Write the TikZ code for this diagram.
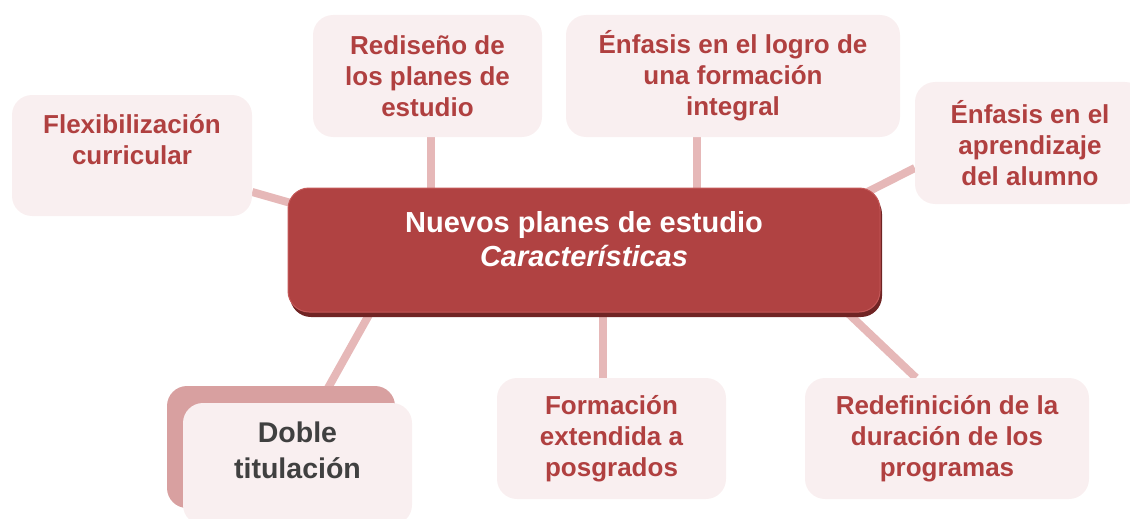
\documentclass[tikz,border=0pt]{standalone}
\usepackage{fontspec}
\setmainfont{Liberation Sans}
\usetikzlibrary{positioning,shadows}

\definecolor{cardbg}{RGB}{249,239,240}
\definecolor{cardred}{RGB}{176,64,64}
\definecolor{linkpink}{RGB}{230,184,184}
\definecolor{mainred}{RGB}{176,66,66}
\definecolor{mainrim}{RGB}{196,88,88}
\definecolor{mainshadow}{RGB}{112,36,36}
\definecolor{dobleback}{RGB}{216,160,160}
\definecolor{dobletext}{RGB}{64,64,64}

\pgfdeclarelayer{background}
\pgfsetlayers{background,main}

\begin{document}
\begin{tikzpicture}[
    x=1pt, y=-1pt,
    card/.style={rectangle, rounded corners=20pt, fill=cardbg, draw=none,
                 minimum width=229pt, minimum height=122pt, inner sep=0pt},
    cardtext/.style={text=cardred, align=center, font=\fontsize{26}{31}\selectfont\bfseries},
    hub/.style={rectangle, rounded corners=21pt, fill=mainred, draw=mainrim, line width=1pt,
                minimum width=592pt, minimum height=124pt, inner sep=0pt,
                drop shadow={shadow xshift=2pt, shadow yshift=-5pt, fill=mainshadow, opacity=1}},
    hubtext/.style={text=white, align=center, font=\fontsize{29}{34}\selectfont\bfseries},
    link/.style={line width=8pt, linkpink}
]
\useasboundingbox (0,0) rectangle (1130,519);
\clip (0,0) rectangle (1130,519);

% Center
\node[hub] (hub) at (584,250) {};
\node[hubtext] (hubt) at ([yshift=10.5pt]hub.center) {Nuevos planes de estudio\\\textit{Características}};

% Top row
\node[card, minimum width=240pt, minimum height=121pt] (flex) at (132,155.5) {};
\node[cardtext] (flext) at ([yshift=16pt]flex.center) {Flexibilización\\curricular};

\node[card, cardtext] (redis) at (427.5,76) {Rediseño de\\los planes de\\estudio};

\node[card, cardtext, minimum width=334pt] (logro) at (733,76) {Énfasis en el logro de\\una formación\\integral};

\node[card, cardtext, minimum width=230pt] (aprend) at (1030,143) {Énfasis en el\\aprendizaje\\del alumno};

% Bottom row
\node[card, fill=dobleback, minimum width=228pt] (dback) at (281,447) {};
\node[card] (doble) at (297.5,464) {};
\node[text=dobletext, align=center, font=\fontsize{28.5}{36}\selectfont\bfseries] (doblet)
    at ([yshift=13.5pt]doble.center) {Doble\\titulación};

\node[card, cardtext, minimum height=121pt] (form) at (611.5,438.5) {Formación\\extendida a\\posgrados};

\node[card, cardtext, minimum width=284pt, minimum height=121pt] (redef) at (947,438.5) {Redefinición de la\\duración de los\\programas};

% Links
\begin{pgfonlayer}{background}
\draw[link] ([yshift=-36.5pt]flex.east) -- ([xshift=12pt,yshift=-18pt]hub.north west);
\draw[link] ([xshift=3.5pt]redis.south) -- ([xshift=3.5pt]redis.south |- hub.north);
\draw[link] ([xshift=-36pt]logro.south) -- ([xshift=-36pt]logro.south |- hub.north);
\draw[link] ([yshift=-25pt]aprend.west) -- ([xshift=-22pt,yshift=-9pt]hub.north east);
\draw[link] ([xshift=86.7pt,yshift=7pt]hub.south west) -- ([xshift=46pt,yshift=-4pt]dback.north);
\draw[link] ([xshift=-8.5pt]form.north) -- ([xshift=-8.5pt]form.north |- hub.south);
\draw[link] ([xshift=-38.5pt,yshift=5pt]hub.south east) -- ([xshift=-31pt]redef.north);
\end{pgfonlayer}

\end{tikzpicture}
\end{document}
